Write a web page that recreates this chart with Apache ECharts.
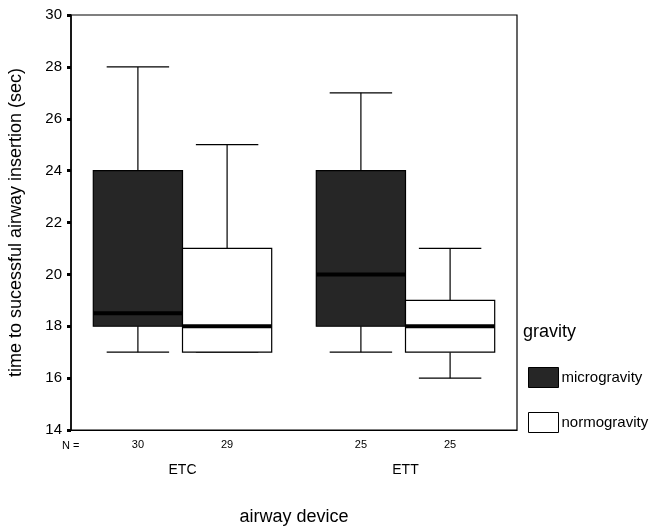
<!DOCTYPE html>
<html><head><meta charset="utf-8">
<script src="https://cdn.jsdelivr.net/npm/echarts@6/dist/echarts.min.js"></script>
<style>html,body{margin:0;padding:0;background:#fff}#c{width:653px;height:529px}</style>
</head><body><div id="c"></div>
<script>
var categories = ['ETC', 'ETT'];
var seriesNames = ['microgravity', 'normogravity'];
// [min, Q1, median, Q3, max] per category
var microgravity = [[17, 18, 18.5, 24, 28], [17, 18, 20, 24, 27]];
var normogravity = [[17, 17, 18, 21, 25], [16, 17, 18, 19, 21]];
var microN = [30, 25];
var normoN = [29, 25];
var yTicks = [14, 16, 18, 20, 22, 24, 26, 28, 30];

var FONT = 'Liberation Sans, Arial, sans-serif';
var fills = ['#262626', '#ffffff'];

function makeData(vals, ns) {
  return vals.map(function (v, i) { return [i].concat(v).concat([ns[i]]); });
}

function makeRender(sign, fill) {
  return function (params, api) {
    var ci = api.value(0);
    var bw = api.size([1, 0])[0];
    var cx = api.coord([ci, 0])[0] + sign * bw * 0.2;
    var half = bw * 0.2;
    var cap = half * 0.7;
    var yMin = api.coord([ci, api.value(1)])[1];
    var yQ1 = api.coord([ci, api.value(2)])[1];
    var yMed = api.coord([ci, api.value(3)])[1];
    var yQ3 = api.coord([ci, api.value(4)])[1];
    var yMax = api.coord([ci, api.value(5)])[1];
    var yBase = api.coord([ci, yTicks[0]])[1];
    var ls = { stroke: '#000', lineWidth: 1.2 };
    var children = [
      { type: 'line', shape: { x1: cx, y1: yQ3, x2: cx, y2: yMax }, style: ls },
      { type: 'line', shape: { x1: cx - cap, y1: yMax, x2: cx + cap, y2: yMax }, style: ls },
      { type: 'line', shape: { x1: cx, y1: yQ1, x2: cx, y2: yMin }, style: ls },
      { type: 'line', shape: { x1: cx - cap, y1: yMin, x2: cx + cap, y2: yMin }, style: ls },
      { type: 'rect', shape: { x: cx - half, y: yQ3, width: 2 * half, height: yQ1 - yQ3 },
        style: { fill: fill, stroke: '#000', lineWidth: 1.2 } },
      { type: 'line', shape: { x1: cx - half, y1: yMed, x2: cx + half, y2: yMed },
        style: { stroke: '#000', lineWidth: 4 } },
      { type: 'text', x: cx, y: yBase + 15,
        style: { text: String(api.value(6)), fill: '#000', font: '11px ' + FONT,
                 align: 'center', verticalAlign: 'middle' } }
    ];
    return { type: 'group', children: children };
  };
}

var chart = echarts.init(document.getElementById('c'), null, { renderer: 'canvas' });
chart.setOption({
  backgroundColor: '#fff',
  animation: false,
  title: {
    text: 'gravity', left: 518, top: 318,
    textStyle: { fontFamily: FONT, fontSize: 18, fontWeight: 'normal', color: '#000' }
  },
  legend: {
    orient: 'vertical', left: 523, top: 362, itemWidth: 30, itemHeight: 20, itemGap: 24,
    textStyle: { fontFamily: FONT, fontSize: 15, color: '#000', padding: [0, 0, 0, -2] },
    data: [
      { name: seriesNames[0], icon: 'rect', itemStyle: { color: fills[0], borderColor: '#000', borderWidth: 1 } },
      { name: seriesNames[1], icon: 'rect', itemStyle: { color: fills[1], borderColor: '#000', borderWidth: 1 } }
    ]
  },
  graphic: [{
    type: 'text', left: 62, top: 440,
    style: { text: 'N =', fill: '#000', font: '11px ' + FONT }
  }],
  grid: { left: 71, right: 136, top: 15, bottom: 99, outerBoundsMode: 'none', containLabel: false,
          show: true, borderColor: '#000', borderWidth: 1.2, backgroundColor: 'transparent' },
  xAxis: {
    type: 'category', data: categories,
    name: 'airway device', nameLocation: 'middle', nameGap: 78,
    nameTextStyle: { fontFamily: FONT, fontSize: 18, color: '#000' },
    axisLine: { lineStyle: { color: '#000', width: 1.2 } },
    axisTick: { alignWithLabel: true, length: 3, lineStyle: { color: '#000', width: 3 } },
    axisLabel: { margin: 33, fontFamily: FONT, fontSize: 14, color: '#000' },
    splitLine: { show: false }
  },
  yAxis: {
    type: 'value', min: yTicks[0], max: yTicks[yTicks.length - 1], interval: 2,
    name: 'time to sucessful airway insertion (sec)', nameLocation: 'middle', nameGap: 46,
    nameTextStyle: { fontFamily: FONT, fontSize: 18, color: '#000' },
    axisLine: { show: true, lineStyle: { color: '#000', width: 1.5 } },
    axisTick: { show: true, length: 4, lineStyle: { color: '#000', width: 3 } },
    axisLabel: { margin: 9, fontFamily: FONT, fontSize: 15, color: '#000' },
    splitLine: { show: false }
  },
  series: [
    { name: seriesNames[0], type: 'custom', renderItem: makeRender(-1, fills[0]),
      itemStyle: { color: fills[0] }, encode: { x: 0, y: [1, 2, 3, 4, 5] },
      data: makeData(microgravity, microN) },
    { name: seriesNames[1], type: 'custom', renderItem: makeRender(1, fills[1]),
      itemStyle: { color: fills[1] }, encode: { x: 0, y: [1, 2, 3, 4, 5] },
      data: makeData(normogravity, normoN) }
  ]
});
</script></body></html>
